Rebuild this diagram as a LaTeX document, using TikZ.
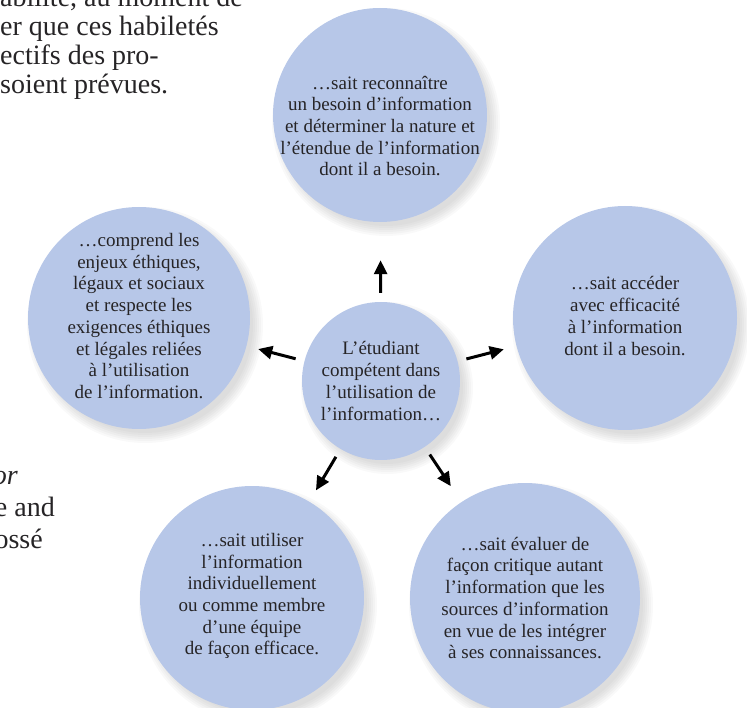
\documentclass[tikz,border=0pt]{standalone}
\usepackage{fontspec}
\setmainfont{Liberation Serif}
\usetikzlibrary{positioning,arrows.meta}

\definecolor{bulle}{RGB}{183,199,232}
\definecolor{encre}{RGB}{38,36,38}

% soft shadow under a bubble: x, y, radius
\newcommand\ombre[3]{%
  \foreach \k in {1,...,6}
    \fill[black, opacity=0.025] (#1+6,#2+7) circle ({#3-5+2*\k});}

\begin{document}
\begin{tikzpicture}[x=1pt, y=-1pt,
  bulle/.style={circle, fill=bulle, inner sep=0pt},
  txt/.style={align=center, text=encre, inner sep=0pt, font=\fontsize{19}{21.7}\selectfont},
  frag/.style={inner sep=0pt, text=encre, font=\fontsize{28}{29.5}\selectfont},
  fleche/.style={-{Triangle[length=14pt,width=13pt]}, line width=3pt, shorten <=9pt}]
\useasboundingbox (0,0) rectangle (747,708);
\clip (0,0) rectangle (747,708);

% page text cut by the frame
\foreach \y/\ligne [count=\i] in {7/{abilité, au moment de}, 36/{er que ces habiletés},
    65/{ectifs des pro-}, 94/{soient prévues.}}
  \node[frag, anchor=base west] (haut-\i) at (0,\y) {\ligne};
\node[frag, anchor=base east] (bas-1) at (18,484) {\textit{or}};
\node[frag, anchor=base east] (bas-2) at (55,516) {e and};
\node[frag, anchor=base east] (bas-3) at (43,548) {ossé};

% shadows
\ombre{380}{115}{107}
\ombre{139}{318}{111}
\ombre{625}{318}{112}
\ombre{381}{381}{79}
\ombre{252}{598}{112}
\ombre{525}{598}{115}

% bubbles
\node[bulle, minimum size=214pt] (besoin) at (380,115) {};
\node[bulle, minimum size=222pt] (ethique) at (139,318) {};
\node[bulle, minimum size=224pt] (acces) at (625,318) {};
\node[bulle, minimum size=158pt] (etudiant) at (381,381) {};
\node[bulle, minimum size=224pt] (utilise) at (252,598) {};
\node[bulle, minimum size=230pt] (evalue) at (525,598) {};

% texts
\node[txt] (besoin-t) at ([yshift=-11pt]besoin.center)
  {…sait reconnaître\\un besoin d’information\\et déterminer la nature et\\l’étendue de l’information\\dont il a besoin.};
\node[txt] (ethique-t) at ([yshift=2pt]ethique.center)
  {…comprend les\\enjeux éthiques,\\légaux et sociaux\\et respecte les\\exigences éthiques\\et légales reliées\\à l’utilisation\\de l’information.};
\node[txt] (acces-t) at ([yshift=2pt]acces.center)
  {…sait accéder\\avec efficacité\\à l’information\\dont il a besoin.};
\node[txt] (etudiant-t) at (etudiant.center)
  {L’étudiant\\compétent dans\\l’utilisation de\\l’information…};
\node[txt] (utilise-t) at ([yshift=2pt]utilise.center)
  {…sait utiliser\\l’information\\individuellement\\ou comme membre\\d’une équipe\\de façon efficace.};
\node[txt] (evalue-t) at (evalue.center)
  {…sait évaluer de\\façon critique autant\\l’information que les\\sources d’information\\en vue de les intégrer\\à ses connaissances.};

% arrows
\draw[fleche, shorten >=38pt] (etudiant) -- (besoin);
\draw[fleche, shorten >=12pt] (etudiant) -- (ethique);
\draw[fleche, shorten >=13pt] (etudiant) -- (acces);
\draw[fleche, shorten >=13pt] (etudiant) -- (utilise);
\draw[fleche, shorten >=19pt] (etudiant) -- (evalue);
\end{tikzpicture}
\end{document}
